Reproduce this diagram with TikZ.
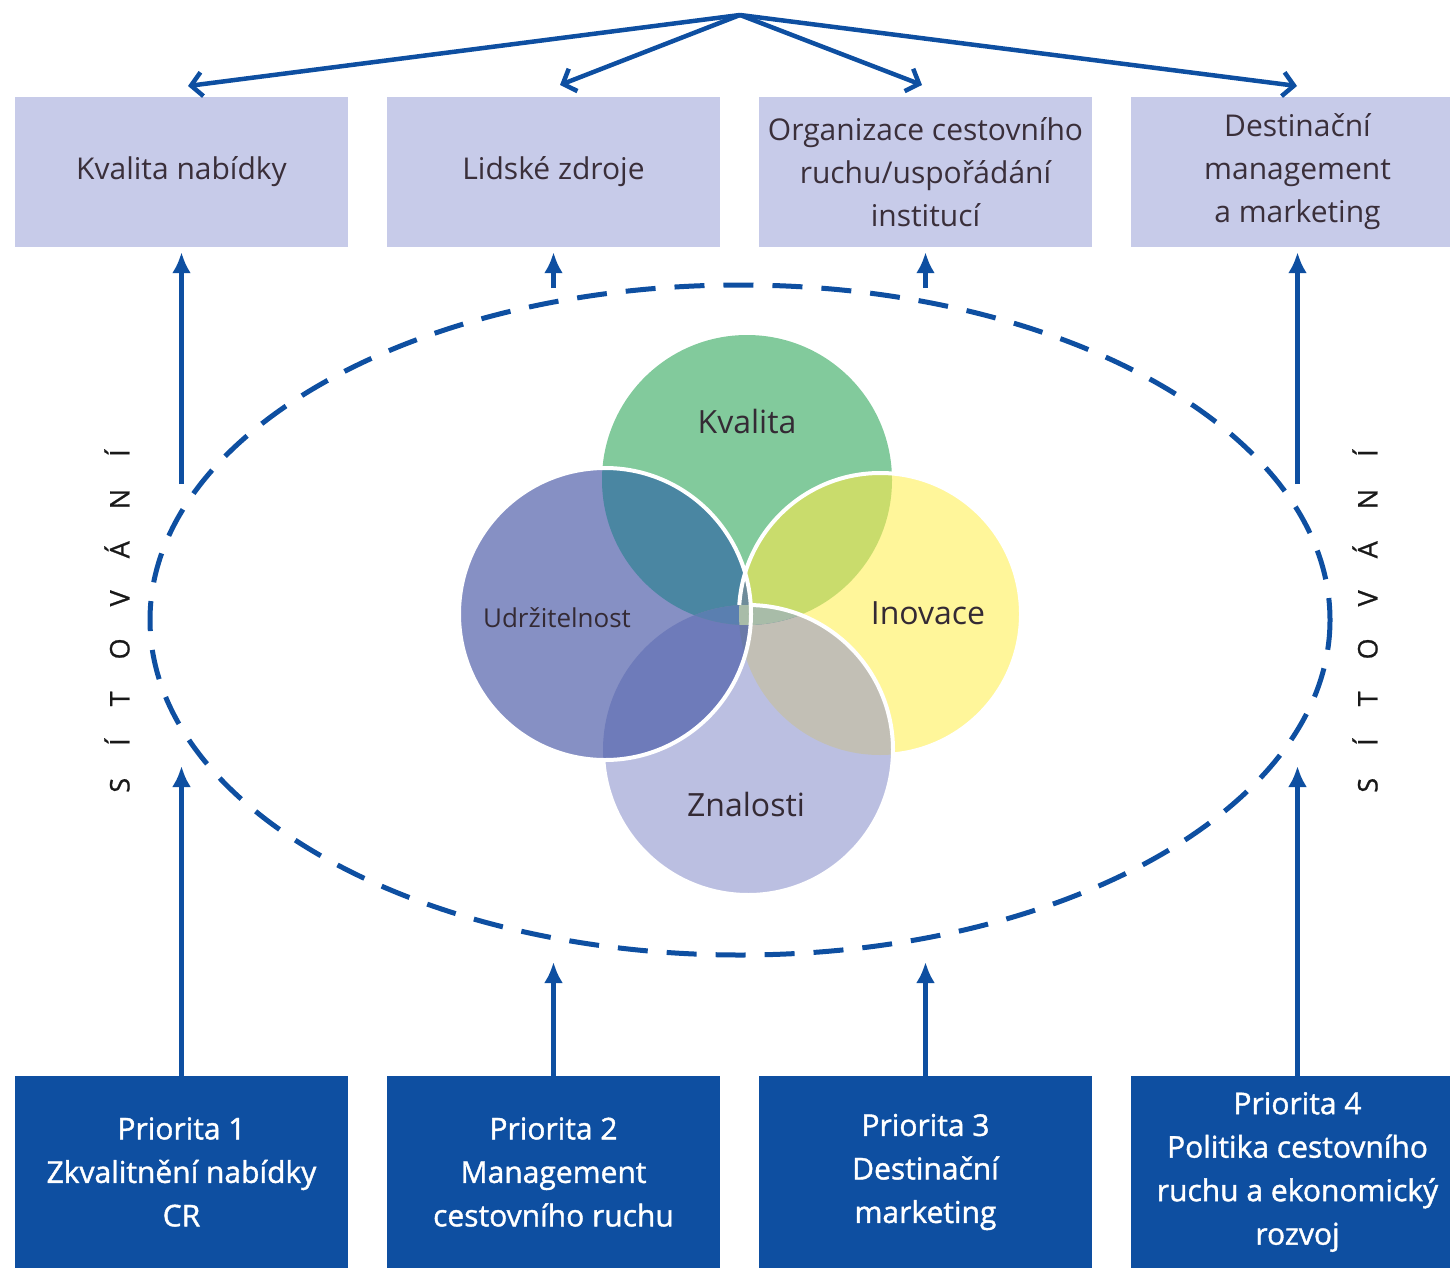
\documentclass[tikz,border=0pt]{standalone}
\usepackage{fontspec}
\setmainfont{Open Sans}
\newfontfamily\prifont[FakeBold=1.3]{Open Sans}
\newfontfamily\sidefont[FakeBold=0.8]{Open Sans}
\usetikzlibrary{arrows.meta,calc}

\definecolor{navy}{HTML}{0E4FA1}
\definecolor{lav}{HTML}{C7CBE9}
\definecolor{ink}{HTML}{3A2F3A}
\definecolor{cK}{HTML}{82CA9C}
\definecolor{cU}{HTML}{8690C4}
\definecolor{cI}{HTML}{FFF69A}
\definecolor{cZ}{HTML}{BBBFE1}
\definecolor{cKU}{HTML}{4A86A2}
\definecolor{cKI}{HTML}{C9DC6C}
\definecolor{cIZ}{HTML}{C2BFB5}
\definecolor{cUZ}{HTML}{6E7BBA}
\definecolor{cKZ}{HTML}{6F8A9E}
\definecolor{cKUI}{HTML}{6F8C9A}
\definecolor{cKUZ}{HTML}{5A7FB0}
\definecolor{cUZI}{HTML}{6A7AA8}
\definecolor{cKZI}{HTML}{A8BCA8}

\begin{document}
\begin{tikzpicture}[x=1pt,y=-1pt,
  topbox/.style={fill=lav, minimum width=333pt, minimum height=150pt,
    inner sep=0pt, align=center, text=ink,
    font=\fontsize{30}{43}\selectfont},
  pribox/.style={fill=navy, minimum width=333pt, minimum height=192pt,
    inner sep=0pt, align=center, text=white,
    font=\prifont\fontsize{30}{43.5}\selectfont},
  link/.style={draw=navy, line width=5.5pt,
    -{Latex[length=21pt,width=19pt]}},
  fan/.style={draw=navy, line width=4.5pt,
    -{Straight Barb[length=11pt,width=24pt]}},
  rim/.style={draw=white, line width=4pt},
  vlabel/.style={text=ink!90!black, inner sep=0pt},
  side/.style={rotate=90, text=black!90, inner sep=0pt,
    font=\sidefont\fontsize{27}{27}\selectfont},
]
\useasboundingbox (0,0) rectangle (1450,1268);

% ---------- top boxes ----------
\node[topbox] (b1) at (181.5,172) {Kvalita nabídky};
\node[topbox] (b2) at (553.5,172) {Lidské zdroje};
\node[topbox] (b3) at (925.5,172) {Organizace cestovního\\ruchu/uspořádání\\institucí};
\node[topbox] (b4) at (1297.5,172) {Destinační\\management\\a marketing};

% ---------- priority boxes ----------
\node[pribox] (p1) at (181.5,1172) {Priorita 1\\Zkvalitnění nabídky\\CR};
\node[pribox] (p2) at (553.5,1172) {Priorita 2\\Management\\cestovního ruchu};
\node[pribox] (p3) at (925.5,1172) {Priorita 3\\Destinační\\marketing};
\node[pribox] (p4) at (1297.5,1172) {Priorita 4\\Politika cestovního\\ruchu a ekonomický\\rozvoj};

% ---------- fan of arrows from the top ----------
\coordinate (apex) at (740,15);
\coordinate (t1) at (188,86);
\coordinate (t2) at (560,85);
\coordinate (t3) at (922,85);
\coordinate (t4) at (1297,86);
\foreach \t in {t1,t2,t3,t4}
  \draw[fan] (apex) -- (\t);

% ---------- dashed networking ellipse ----------
\coordinate (ec) at (740,620);
\draw[navy, line width=5pt, dash pattern=on 30pt off 19pt, dash phase=8pt]
  (ec) ellipse [x radius=590pt, y radius=335pt];

% ---------- vertical arrows ----------
\coordinate (u1) at (181.5,484);
\coordinate (u2) at (553.5,288);
\coordinate (u3) at (925.5,288);
\coordinate (u4) at (1297.5,484);
\coordinate (d1) at (181.5,766);
\coordinate (d2) at (553.5,962);
\coordinate (d3) at (925.5,962);
\coordinate (d4) at (1297.5,766);
\foreach \i in {1,2,3,4}{
  \draw[link, shorten >=5pt] (u\i) -- (b\i.south);
  \draw[link] (p\i.north) -- (d\i);
}

% ---------- Venn circles ----------
\coordinate (K) at (747,480);
\coordinate (U) at (605,614);
\coordinate (I) at (880,614);
\coordinate (Z) at (748,750);
\def\rK{145pt}\def\rU{146pt}\def\rI{141pt}\def\rZ{145pt}

\fill[cK] (K) circle (\rK);
\fill[cI] (I) circle (\rI);
\fill[cZ] (Z) circle (\rZ);
\fill[cU] (U) circle (\rU);

% pairwise overlaps
\begin{scope}\clip (K) circle (\rK); \fill[cKU] (U) circle (\rU); \end{scope}
\begin{scope}\clip (K) circle (\rK); \fill[cKI] (I) circle (\rI); \end{scope}
\begin{scope}\clip (I) circle (\rI); \fill[cIZ] (Z) circle (\rZ); \end{scope}
\begin{scope}\clip (U) circle (\rU); \fill[cUZ] (Z) circle (\rZ); \end{scope}
\begin{scope}\clip (K) circle (\rK); \fill[cKZ] (Z) circle (\rZ); \end{scope}

% triple overlaps in the middle
\begin{scope}\clip (K) circle (\rK); \clip (U) circle (\rU); \fill[cKUI] (I) circle (\rI); \end{scope}
\begin{scope}\clip (K) circle (\rK); \clip (U) circle (\rU); \fill[cKUZ] (Z) circle (\rZ); \end{scope}
\begin{scope}\clip (U) circle (\rU); \clip (Z) circle (\rZ); \fill[cUZI] (I) circle (\rI); \end{scope}
\begin{scope}\clip (K) circle (\rK); \clip (Z) circle (\rZ); \fill[cKZI] (I) circle (\rI); \end{scope}

% white rims where a circle lies over its neighbours
\draw[rim] (I) ++(-84.7:\rI) arc[start angle=-84.7, end angle=176.3, radius=\rI];
\draw[rim] (Z) ++(88.9:\rZ) arc[start angle=88.9, end angle=-176, radius=\rZ];
\draw[rim] (U) circle (\rU);

% circle labels
\node[vlabel, font=\fontsize{32}{32}\selectfont] (lK) at (747,421) {Kvalita};
\node[vlabel, font=\fontsize{26}{26}\selectfont] (lU) at (557,618) {Udržitelnost};
\node[vlabel, font=\fontsize{32}{32}\selectfont] (lI) at (928,613) {Inovace};
\node[vlabel, font=\fontsize{32}{32}\selectfont] (lZ) at (746,804) {Znalosti};

% ---------- side captions ----------
\def\gap{\hspace{32pt}}
\node[side] (sL) at (117,621) {S\gap Í\gap T\gap O\gap V\gap Á\gap N\gap Í};
\node[side] (sR) at (1365,621) {S\gap Í\gap T\gap O\gap V\gap Á\gap N\gap Í};
\end{tikzpicture}
\end{document}
